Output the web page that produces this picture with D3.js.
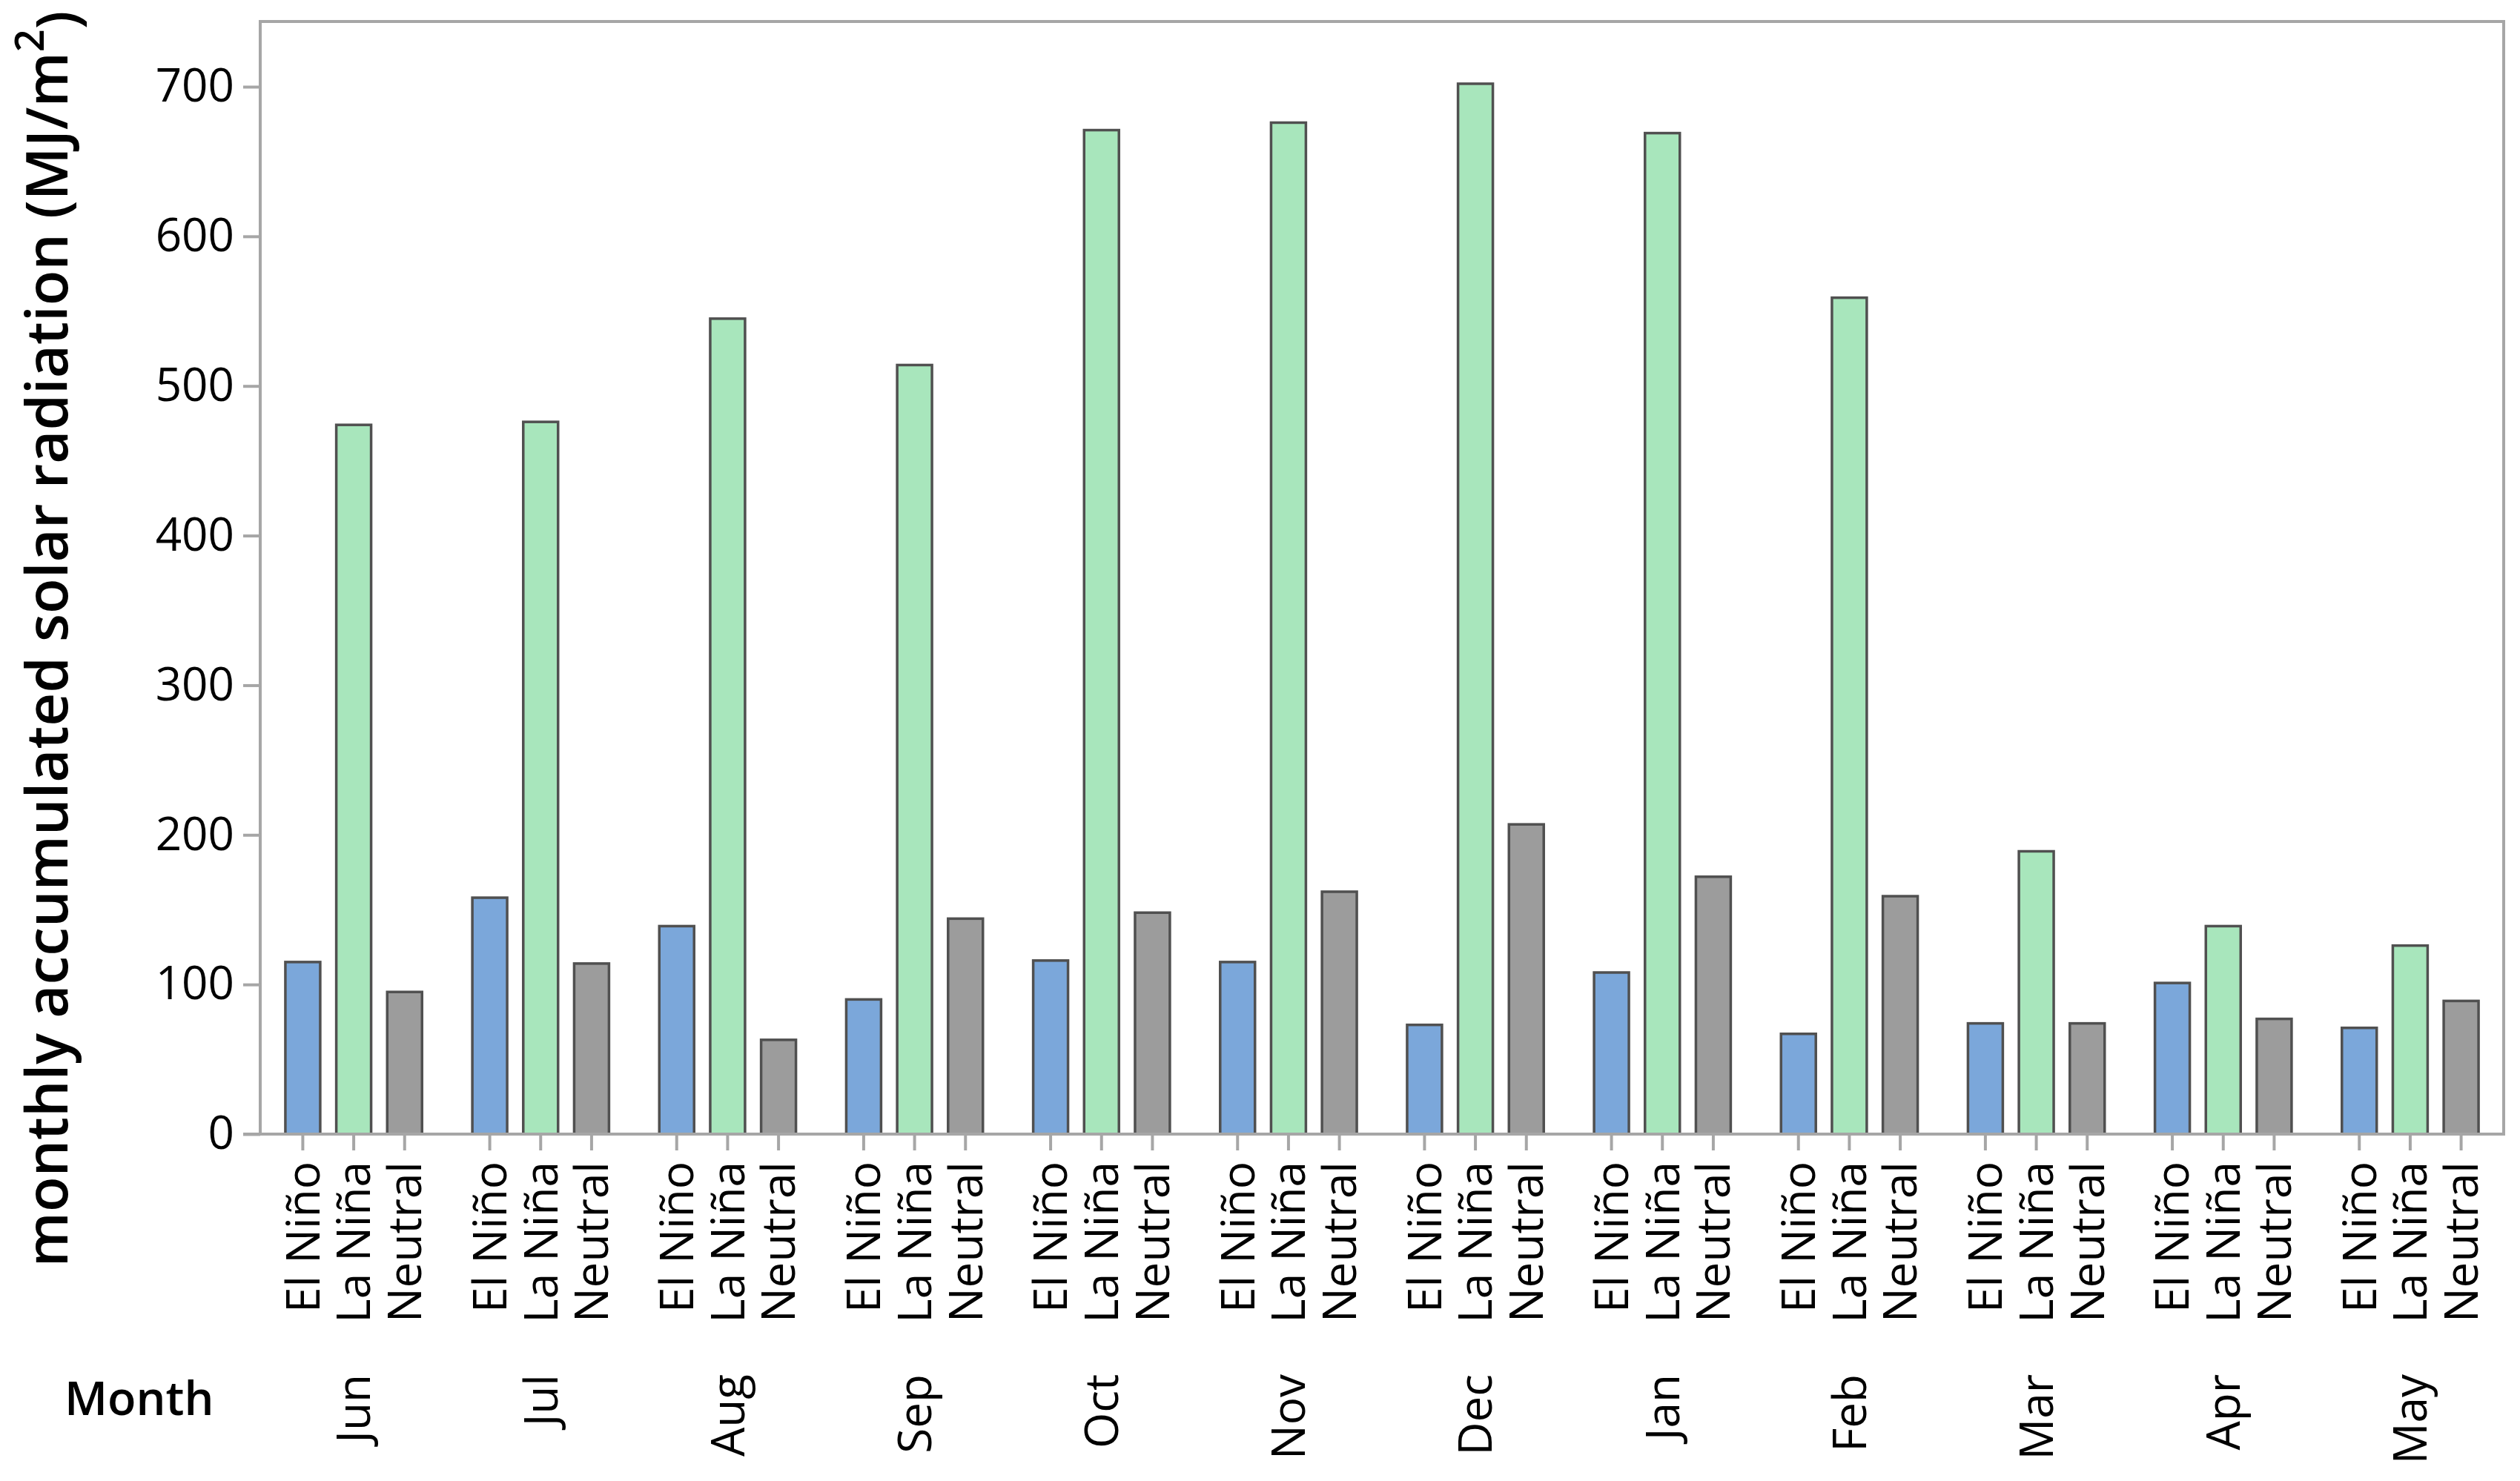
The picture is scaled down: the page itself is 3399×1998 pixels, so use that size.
<!DOCTYPE html>
<html>
<head>
<meta charset="utf-8">
<script src="https://cdn.jsdelivr.net/npm/d3@7"></script>
<style>
  html, body { margin: 0; padding: 0; background: #fff; }
  svg { display: block; }
  text { font-family: "Open Sans", "Noto Sans", sans-serif; fill: #000; }
</style>
</head>
<body>
<svg id="chart" width="3399" height="1998"></svg>
<script>
const months = ["Jun","Jul","Aug","Sep","Oct","Nov","Dec","Jan","Feb","Mar","Apr","May"];
const series = ["El Niño","La Niña","Neutral"];
const elNino  = [115, 158, 139,  90, 116, 115,  73, 108,  67,  74, 101,  71];
const laNina  = [474, 476, 545, 514, 671, 676, 702, 669, 559, 189, 139, 126];
const neutral = [ 95, 114,  63, 144, 148, 162, 207, 172, 159,  74,  77,  89];
const yTicks = [0, 100, 200, 300, 400, 500, 600, 700];
const colors = ["#7ba7da", "#a8e6bc", "#9c9c9c"];

const values = [elNino, laNina, neutral];
const data = [];
months.forEach((m, i) => series.forEach((s, j) => data.push({month: m, series: s, value: values[j][i], k: j})));

const svg = d3.select("#chart");
const L = 351, R = 3377, T = 29, B = 1530;

const y = d3.scaleLinear().domain([0, 700]).range([B, 117]);
const x0 = d3.scaleBand().domain(months).range([L, R]).padding(0);
const x1 = d3.scaleBand().domain(series).range([0, x0.bandwidth()]).paddingInner(0.316).paddingOuter(0.494);

const axisColor = "#a6a6a6";

// frame
svg.append("rect").attr("x", L).attr("y", T).attr("width", R - L).attr("height", B - T)
  .attr("fill", "none").attr("stroke", axisColor).attr("stroke-width", 4);

// y axis
const yAxis = svg.append("g").attr("transform", `translate(${L},0)`)
  .call(d3.axisLeft(y).tickValues(yTicks).tickSize(23).tickPadding(12));
yAxis.select(".domain").remove();
yAxis.selectAll(".tick line").attr("stroke", axisColor).attr("stroke-width", 4);
yAxis.selectAll(".tick text").attr("font-size", 62).attr("font-weight", 500)
  .attr("font-family", "'Open Sans', sans-serif").attr("fill", "#000");

// bars
svg.append("g").selectAll("rect").data(data).join("rect")
  .attr("x", d => x0(d.month) + x1(d.series))
  .attr("y", d => y(d.value))
  .attr("width", x1.bandwidth())
  .attr("height", d => B - y(d.value))
  .attr("fill", d => colors[d.k])
  .attr("stroke", "#505050")
  .attr("stroke-width", 3.5);

// bottom axis line (extends to left tick)
svg.append("line").attr("x1", L - 23).attr("x2", R).attr("y1", B).attr("y2", B)
  .attr("stroke", axisColor).attr("stroke-width", 4);

// group axes
months.forEach(m => {
  const g = svg.append("g").attr("transform", `translate(${x0(m)},${B})`)
    .call(d3.axisBottom(x1).tickSize(22).tickSizeOuter(0));
  g.select(".domain").remove();
  g.selectAll(".tick line").attr("stroke", axisColor).attr("stroke-width", 4);
  g.selectAll(".tick text")
    .attr("font-size", 62).attr("font-weight", 500)
    .attr("font-family", "'Open Sans', sans-serif").attr("fill", "#000")
    .attr("text-anchor", "end")
    .attr("transform", "translate(0,37) rotate(-90)")
    .attr("x", 0).attr("y", 0).attr("dy", "0.36em");
});

// month labels
svg.append("g").selectAll("text").data(months).join("text")
  .attr("transform", d => `translate(${x0(d) + x0.bandwidth() / 2},1854) rotate(-90)`)
  .attr("text-anchor", "end").attr("dy", "0.36em")
  .attr("font-size", 62).attr("font-weight", 500)
  .text(d => d);

svg.append("text").attr("x", 87).attr("y", 1886).attr("dy", "0.36em")
  .attr("font-size", 63).attr("font-weight", 600).text("Month");

// y label
const yl = svg.append("text")
  .attr("transform", "translate(63,862) rotate(-90)")
  .attr("text-anchor", "middle").attr("dy", "0.36em")
  .attr("font-size", 78).attr("font-weight", 600);
yl.append("tspan").text("monthly accumulated solar radiation (MJ/m");
yl.append("tspan").attr("dy", "-0.6em").attr("font-size", 54).text("2");
yl.append("tspan").attr("dy", "0.6em").text(")");
</script>
</body>
</html>
